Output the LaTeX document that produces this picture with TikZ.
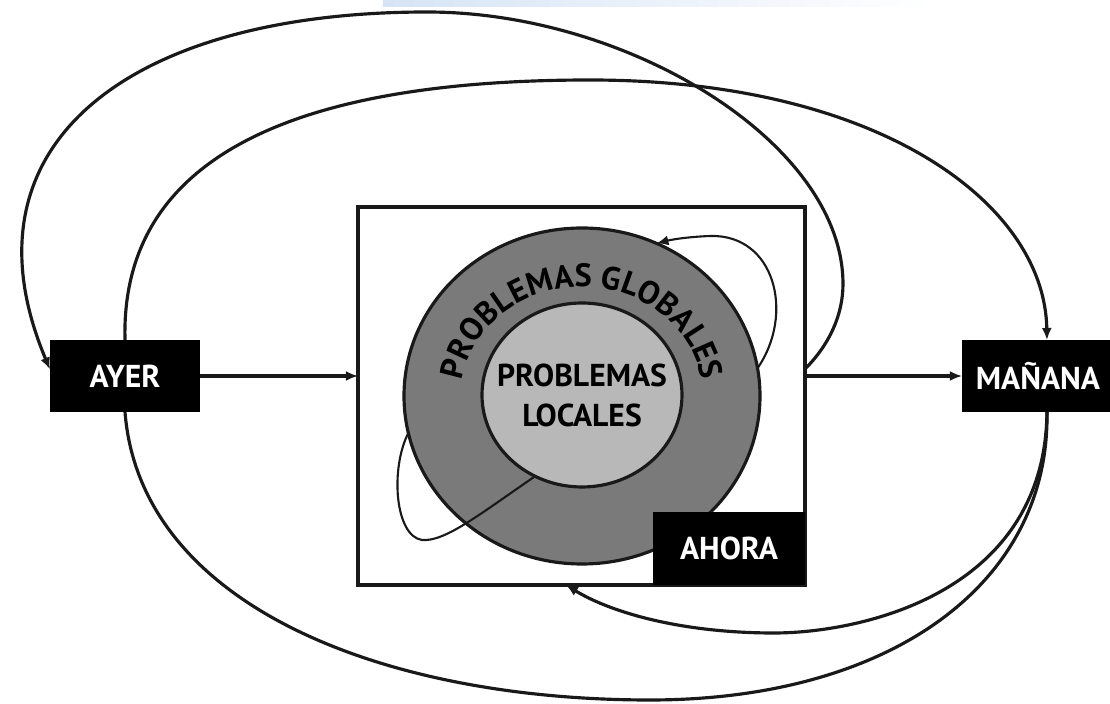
\documentclass[tikz,border=0pt]{standalone}
\usepackage{fontspec}
\setmainfont{PT Sans}
\usetikzlibrary{arrows.meta,shapes.geometric,decorations.text,calc}
\definecolor{anillo}{RGB}{122,122,122}
\definecolor{nucleo}{RGB}{184,184,184}
\definecolor{trazo}{RGB}{25,25,25}
\definecolor{barra}{RGB}{214,228,245}

\begin{document}
\begin{tikzpicture}[
    tiempo/.style={fill=black, text=white, font=\bfseries\fontsize{9}{11}\selectfont,
        minimum width=1.5cm, minimum height=0.72cm, inner sep=0pt, outer sep=0pt},
    disco/.style={ellipse, draw=trazo, line width=0.9pt, inner sep=0pt, outer sep=0pt},
    lazo/.style={draw=trazo, line width=0.9pt},
    bucle/.style={draw=trazo, line width=0.6pt},
    flecha/.style={-{Latex[length=1.2mm,width=1mm]}}
]
        \useasboundingbox (0,0) rectangle (11.1,7.04);
        %franja superior
        \shade[left color=barra, right color=white] (3.83,6.97) rectangle (9.3,7.04);
        %cuadro central
        \node[draw=trazo, line width=1pt, minimum width=4.47cm, minimum height=3.78cm, inner sep=0pt, outer sep=0pt] (sq) at (5.815,3.08) {};
        %circulos
        \node[disco, fill=anillo, minimum width=3.56cm, minimum height=3.36cm] (glob) at (5.82,3.08) {};
        \node[disco, fill=nucleo, minimum width=2cm, minimum height=1.84cm] (loc) at (5.82,3.09) {};
        \node[font=\bfseries\fontsize{9}{11.4}\selectfont, align=center] (loctxt) at (loc) {PROBLEMAS\\LOCALES};
        \path[decorate, decoration={text along path, text align=center,
            text={|\bfseries\fontsize{9.2}{11}\selectfont|PROBLEMAS GLOBALES}}]
            ($(glob.center)+(168:1.21 and 1.09)$) arc[start angle=168, end angle=12, x radius=1.21, y radius=1.09];
        %bucles internos
        \draw[bucle, flecha] (glob.9) .. controls (7.95,3.9) and (7.75,4.7) .. (7.1,4.68) .. controls (6.85,4.67) and (6.7,4.64) .. (glob.64);
        \draw[bucle] (loc.240) .. controls (4.8,1.9) and (4.45,1.62) .. (4.22,1.64) .. controls (3.95,1.68) and (3.9,2.35) .. (glob.192);
        %etiquetas de tiempo
        \node[tiempo, minimum width=1.52cm, minimum height=0.73cm, anchor=south east] (ahora) at (sq.south east) {AHORA};
        \node[tiempo] (ayer) at (1.25,3.28) {AYER};
        \node[tiempo, minimum width=1.52cm] (manana) at (10.38,3.28) {MAÑANA};
        %flechas rectas
        \draw[lazo, flecha] (ayer.east) -- (ayer.east -| sq.west);
        \draw[lazo, flecha] (sq.east |- manana.west) -- (manana.west);
        %arcos grandes
        \coordinate (salida) at ($(sq.east |- manana.west)+(0,0.07)$);
        \coordinate (entrada) at ([xshift=-0.155cm]sq.south);
        \draw[lazo, flecha] (salida) .. controls (8.3,3.6) and (8.43,3.9) .. (8.43,4.2) .. controls (8.43,5.6) and (6.3,6.92) .. (4.27,6.92) .. controls (1.3,6.92) and (-0.45,5.6) .. (ayer.175);
        \draw[lazo, flecha] (ayer.north) .. controls (1.2,5.6) and (3.2,6.24) .. (5.9,6.24) .. controls (8.8,6.24) and (10.45,5.0) .. (manana.76);
        \draw[lazo] (ayer.south) .. controls (1.4,1.0) and (3.8,0.04) .. (6.5,0.04) .. controls (8.9,0.04) and (10.5,1.2) .. (manana.-76);
        \draw[lazo, flecha] (manana.-76) .. controls (10.45,1.1) and (8.6,0.71) .. (7.74,0.71) .. controls (6.8,0.71) and (6.1,0.92) .. (entrada);
\end{tikzpicture}
\end{document}
